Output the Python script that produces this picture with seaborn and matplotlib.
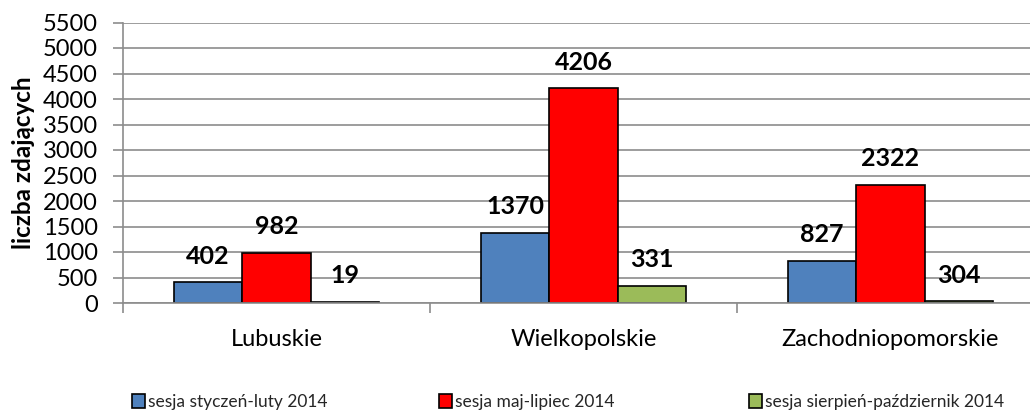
import matplotlib
matplotlib.use("Agg")
import matplotlib.pyplot as plt
import seaborn as sns
import pandas as pd

# ---- data ----
regions = ["Lubuskie", "Wielkopolskie", "Zachodniopomorskie"]
sessions = ["sesja styczeń-luty 2014", "sesja maj-lipiec 2014", "sesja sierpień-październik 2014"]
s_styczen = [402, 1370, 827]
s_maj = [982, 4206, 2322]
s_sierpien = [19, 331, 30]
labels_styczen = ["402", "1370", "827"]
labels_maj = ["982", "4206", "2322"]
labels_sierpien = ["19", "331", "304"]
y_ticks = [0, 500, 1000, 1500, 2000, 2500, 3000, 3500, 4000, 4500, 5000, 5500]
y_title = "liczba zdających"
colors = ["#4F81BD", "#FF0000", "#9BBB59"]

rows = []
for s, vals in zip(sessions, [s_styczen, s_maj, s_sierpien]):
    for r, v in zip(regions, vals):
        rows.append({"region": r, "session": s, "value": v})
df = pd.DataFrame(rows)

sns.set_theme(style="white")
plt.rcParams["font.family"] = ["Lato", "DejaVu Sans"]

fig = plt.figure(figsize=(10.30, 4.12), dpi=100)
W, H = 1030, 412
left, right, top, bottom = 123, 1044, 22.5, 303
ax = fig.add_axes([left / W, (H - bottom) / H, (right - left) / W, (bottom - top) / H])

sns.barplot(data=df, x="region", y="value", hue="session", order=regions,
            hue_order=sessions, palette=colors, saturation=1, edgecolor="black",
            linewidth=1.2, width=0.67, gap=0, ax=ax, legend=True)

ax.set_xlim(-0.5, 2.5)
ax.set_ylim(0, 5500)
ax.set_yticks(y_ticks)
ax.set_yticklabels([str(t) for t in y_ticks], fontsize=17, color="black")
ax.set_axisbelow(True)
ax.yaxis.grid(True, color="#8C8C8C", linewidth=1.2)
ax.xaxis.grid(False)
for sp in ["top", "right"]:
    ax.spines[sp].set_visible(False)
for sp in ["left", "bottom"]:
    ax.spines[sp].set_color("#8C8C8C")
    ax.spines[sp].set_linewidth(1.2)
ax.tick_params(axis="y", which="major", left=True, length=7, width=1.2, color="#8C8C8C", pad=11)
ax.set_xticks([-0.5, 0.5, 1.5, 2.5], minor=True)
ax.tick_params(axis="x", which="minor", bottom=True, length=7, width=1.2, color="#8C8C8C")
ax.tick_params(axis="x", which="major", bottom=False, length=0, pad=19, labelsize=17, labelcolor="black")
ax.set_xlabel("")
ax.set_ylabel(y_title, fontsize=17.5, fontweight="bold", labelpad=6, color="black")

for cont, labs in zip(ax.containers, [labels_styczen, labels_maj, labels_sierpien]):
    for bar, lab in zip(cont, labs):
        ax.annotate(lab, (bar.get_x() + bar.get_width() / 2, bar.get_height()),
                    xytext=(0, 19), textcoords="offset points", ha="center", va="center",
                    fontsize=18, fontweight="bold", color="black")

handles, labs = ax.get_legend_handles_labels()
ax.get_legend().remove()
xs = [132, 439, 749]
for h, l, x in zip(handles, labs, xs):
    fig.legend([h], [l], loc="center left", bbox_to_anchor=(x / W, (H - 402) / H),
               frameon=False, fontsize=12.5, handlelength=0.75, handleheight=0.9,
               handletextpad=0.2, borderpad=0, borderaxespad=0)

fig.savefig("out.png", dpi=100)
